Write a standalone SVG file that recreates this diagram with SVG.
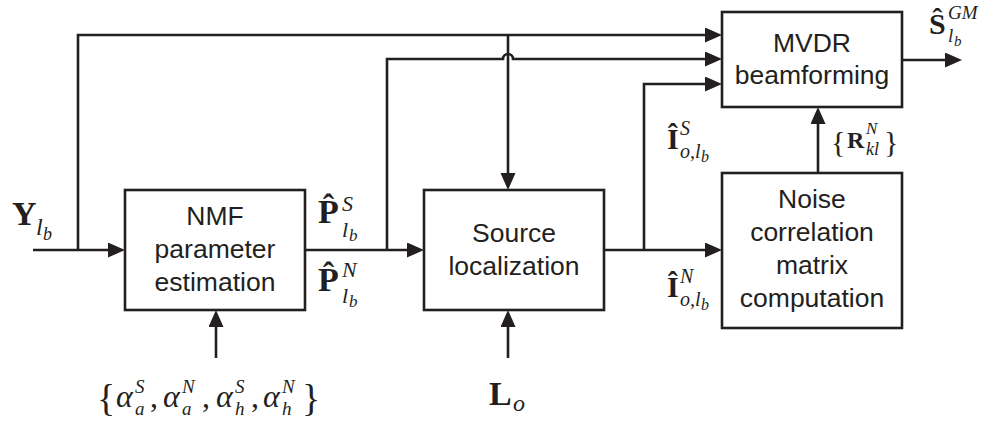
<svg xmlns="http://www.w3.org/2000/svg" width="995" height="424" viewBox="0 0 995 424">
<defs>
<style>
.box{fill:#fff;stroke:#231f20;stroke-width:2.6}
.ln{fill:none;stroke:#231f20;stroke-width:2.6}
.arr{marker-end:url(#ah)}
.t{font-family:"Liberation Sans",Arial,sans-serif;font-size:26.5px;fill:#231f20;text-anchor:middle}
.m{font-family:"Liberation Serif","Times New Roman",serif;fill:#231f20}
.b{font-weight:bold}
.i{font-style:italic}
</style>
<marker id="ah" markerUnits="userSpaceOnUse" markerWidth="18" markerHeight="16" refX="13" refY="7.5" orient="auto">
<path d="M0,0 L17,7.5 L0,15 Z" fill="#231f20"/>
</marker>
</defs>
<rect width="995" height="424" fill="#fff"/>
<g id="connectors">
<path class="ln arr" d="M33,250 H121"/>
<path class="ln arr" d="M78,250 V35 H718"/>
<path class="ln arr" d="M508,35 V186"/>
<path class="ln arr" d="M305,250 H420"/>
<path class="ln arr" d="M387,250 V59 H503 A5,5 0 0 1 513,59 H718"/>
<path class="ln arr" d="M604,250 H718"/>
<path class="ln arr" d="M644,250 V84 H718"/>
<path class="ln arr" d="M818,173 V111"/>
<path class="ln arr" d="M902,60 H958"/>
<path class="ln arr" d="M216,358 V314"/>
<path class="ln arr" d="M508,358 V314"/>
</g>
<g id="nmf">
<rect class="box" x="125" y="190" width="180" height="120"/>
<text class="t" x="215" y="225">NMF</text>
<text class="t" x="215" y="258">parameter</text>
<text class="t" x="215" y="291">estimation</text>
</g>
<g id="source-localization">
<rect class="box" x="424" y="190" width="180" height="120"/>
<text class="t" x="514" y="242">Source</text>
<text class="t" x="514" y="275">localization</text>
</g>
<g id="mvdr">
<rect class="box" x="722" y="12" width="180" height="95"/>
<text class="t" x="812" y="52">MVDR</text>
<text class="t" x="812" y="84">beamforming</text>
</g>
<g id="noise-correlation">
<rect class="box" x="722" y="173" width="180" height="155"/>
<text class="t" x="812" y="208">Noise</text>
<text class="t" x="812" y="241">correlation</text>
<text class="t" x="812" y="274">matrix</text>
<text class="t" x="812" y="307">computation</text>
</g>
<g id="labels">
<text class="m"><tspan class="b" x="12" y="225" font-size="34">Y</tspan><tspan class="i" x="36" y="235" font-size="24">l</tspan><tspan class="i" x="43" y="240" font-size="18">b</tspan></text>
<text class="m"><tspan class="b" x="318" y="223" font-size="34">P̂</tspan><tspan class="i" x="342" y="211" font-size="22">S</tspan><tspan class="i" x="342" y="237" font-size="22">l</tspan><tspan class="i" x="349" y="241" font-size="17">b</tspan></text>
<text class="m"><tspan class="b" x="318" y="291" font-size="34">P̂</tspan><tspan class="i" x="342" y="277" font-size="22">N</tspan><tspan class="i" x="342" y="303" font-size="22">l</tspan><tspan class="i" x="349" y="307" font-size="17">b</tspan></text>
<text class="m"><tspan class="b" x="667" y="149" font-size="30">Î</tspan><tspan class="i" x="680" y="135" font-size="20">S</tspan><tspan class="i" x="680" y="158" font-size="20">o,l</tspan><tspan class="i" x="701" y="162" font-size="16">b</tspan></text>
<text class="m"><tspan class="b" x="667" y="297" font-size="30">Î</tspan><tspan class="i" x="680" y="283" font-size="20">N</tspan><tspan class="i" x="680" y="306" font-size="20">o,l</tspan><tspan class="i" x="701" y="310" font-size="16">b</tspan></text>
<text class="m"><tspan x="831" y="152" font-size="30">{</tspan><tspan class="b" x="847" y="148" font-size="24">R</tspan><tspan class="i" x="866" y="134" font-size="17">N</tspan><tspan class="i" x="866" y="155" font-size="18">kl</tspan><tspan x="884" y="152" font-size="30">}</tspan></text>
<text class="m"><tspan class="b" x="929" y="34" font-size="30">Ŝ</tspan><tspan class="i" x="948" y="19" font-size="19">GM</tspan><tspan class="i" x="948" y="42" font-size="19">l</tspan><tspan class="i" x="954" y="46" font-size="15">b</tspan></text>
<text class="m"><tspan class="b" x="489" y="405" font-size="34">L</tspan><tspan class="i" x="513" y="411" font-size="24">o</tspan></text>
<text class="m"><tspan x="97" y="411" font-size="38">{</tspan><tspan class="i" x="116" y="407" font-size="32">α</tspan><tspan class="i" x="135" y="393" font-size="19">S</tspan><tspan class="i" x="135" y="415" font-size="19">a</tspan><tspan x="150" y="407" font-size="32">,</tspan><tspan class="i" x="163" y="407" font-size="32">α</tspan><tspan class="i" x="182" y="393" font-size="19">N</tspan><tspan class="i" x="182" y="415" font-size="19">a</tspan><tspan x="202" y="407" font-size="32">,</tspan><tspan class="i" x="216" y="407" font-size="32">α</tspan><tspan class="i" x="235" y="393" font-size="19">S</tspan><tspan class="i" x="235" y="415" font-size="19">h</tspan><tspan x="251" y="407" font-size="32">,</tspan><tspan class="i" x="263" y="407" font-size="32">α</tspan><tspan class="i" x="282" y="393" font-size="19">N</tspan><tspan class="i" x="282" y="415" font-size="19">h</tspan><tspan x="302" y="411" font-size="38">}</tspan></text>
</g>
</svg>
